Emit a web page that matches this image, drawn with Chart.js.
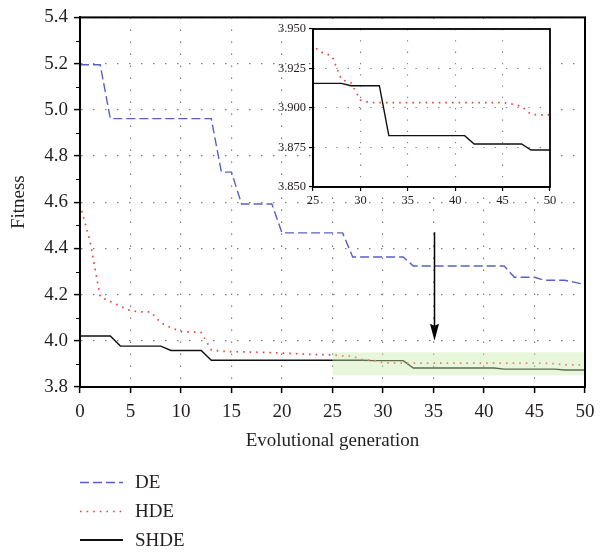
<!DOCTYPE html>
<html>
<head>
<meta charset="utf-8">
<script src="https://cdn.jsdelivr.net/npm/chart.js@4.4.1/dist/chart.umd.min.js"></script>
<style>
  body { margin: 0; background: #fff; }
  #wrap { position: relative; width: 608px; height: 552px; }
  #mainChart { position: absolute; left: 0; top: 0; }
  #insetChart { position: absolute; left: 270px; top: 17px; }
</style>
</head>
<body>
<div id="wrap">
  <canvas id="mainChart" width="608" height="552"></canvas>
  <canvas id="insetChart" width="290" height="190"></canvas>
</div>
<script>
// generations 0..50
const generations = [0, 1, 2, 3, 4, 5, 6, 7, 8, 9, 10, 11, 12, 13, 14, 15, 16, 17, 18, 19, 20,
  21, 22, 23, 24, 25, 26, 27, 28, 29, 30, 31, 32, 33, 34, 35, 36, 37, 38, 39, 40,
  41, 42, 43, 44, 45, 46, 47, 48, 49, 50];

const deValues = [5.195, 5.195, 5.195, 4.962, 4.962, 4.962, 4.962, 4.962, 4.962, 4.962, 4.962,
  4.962, 4.962, 4.962, 4.73, 4.73, 4.592, 4.592, 4.592, 4.592, 4.467,
  4.467, 4.467, 4.467, 4.467, 4.467, 4.467, 4.363, 4.363, 4.363, 4.363,
  4.363, 4.363, 4.324, 4.324, 4.324, 4.324, 4.324, 4.324, 4.324, 4.324,
  4.324, 4.324, 4.275, 4.275, 4.275, 4.262, 4.262, 4.262, 4.253, 4.244];

const hdeValues = [4.59, 4.43, 4.19, 4.17, 4.15, 4.13, 4.125, 4.125, 4.078, 4.057, 4.04,
  4.038, 4.036, 3.96, 3.955, 3.953, 3.952, 3.951, 3.95, 3.949, 3.947,
  3.945, 3.943, 3.941, 3.94, 3.939, 3.935, 3.933, 3.918, 3.916, 3.905,
  3.9034, 3.9034, 3.9034, 3.9034, 3.9034, 3.9034, 3.9034, 3.9034, 3.9034, 3.9034,
  3.9034, 3.9034, 3.9034, 3.9034, 3.9034, 3.9025, 3.901, 3.896, 3.8956, 3.8956];

const shdeValues = [4.021, 4.021, 4.021, 4.021, 3.977, 3.977, 3.977, 3.977, 3.977, 3.958, 3.958,
  3.958, 3.958, 3.9156, 3.9156, 3.9156, 3.9156, 3.9156, 3.9156, 3.9156, 3.9156,
  3.9156, 3.9156, 3.9156, 3.9156, 3.9156, 3.9156, 3.9156, 3.9156, 3.9141, 3.9141,
  3.9141, 3.9141, 3.8825, 3.8825, 3.8825, 3.8825, 3.8825, 3.8825, 3.8825, 3.8825,
  3.8825, 3.8772, 3.8772, 3.8772, 3.8772, 3.8772, 3.8772, 3.8734, 3.8734, 3.8734];

const seriesNames = ['DE', 'HDE', 'SHDE'];
const yMinorTicks = [3.9, 4.1, 4.3, 4.5, 4.7, 4.9, 5.1, 5.3];

// zoomed region and arrow (data units)
const zoomX = [25, 50];
const zoomY = [3.85, 3.95];
const arrowX = 35;
const arrowY = [4.47, 4.0];

const FONT = "'Liberation Serif', 'Times New Roman', serif";
Chart.defaults.font.family = FONT;
Chart.defaults.color = '#231f20';

const COLORS = { DE: '#5860c4', HDE: '#e8453c', SHDE: '#111111' };
const DASHES = { DE: [9, 4], HDE: [1.6, 5], SHDE: [] };

function pts(values) {
  return generations.map((g, i) => ({ x: g, y: values[i] }));
}

function makeDataset(name, values) {
  return {
    label: name,
    data: pts(values),
    borderColor: COLORS[name],
    borderWidth: name === 'HDE' ? 1.7 : 1.4,
    borderDash: DASHES[name],
    pointRadius: 0,
    tension: 0,
    fill: false
  };
}

const gridOpts = {
  color: '#808080',
  lineWidth: 1.2,
  tickColor: '#000',
  tickWidth: 1.5,
  tickLength: 6
};

const mainPlugin = {
  id: 'mainExtras',
  afterDatasetsDraw(chart) {
    const { ctx, scales: { x, y } } = chart;
    // highlighted zoom region
    ctx.save();
    ctx.fillStyle = 'rgba(200, 235, 170, 0.42)';
    const x1 = x.getPixelForValue(zoomX[0]), x2 = x.getPixelForValue(zoomX[1]);
    const y1 = y.getPixelForValue(zoomY[1]), y2 = y.getPixelForValue(zoomY[0]);
    ctx.fillRect(x1, y1, x2 - x1, y2 - y1);
    ctx.restore();
  },
  afterDraw(chart) {
    const { ctx, chartArea: a, scales: { x, y } } = chart;
    ctx.save();
    // frame
    ctx.strokeStyle = '#000';
    ctx.lineWidth = 2;
    ctx.strokeRect(a.left, a.top, a.right - a.left, a.bottom - a.top);
    // minor y ticks
    ctx.lineWidth = 1.2;
    ctx.beginPath();
    yMinorTicks.forEach(v => {
      const py = Math.round(y.getPixelForValue(v)) + 0.5;
      ctx.moveTo(a.left - 4, py);
      ctx.lineTo(a.left, py);
    });
    ctx.stroke();
    // arrow
    const ax = Math.round(x.getPixelForValue(arrowX)) + 0.5;
    const ay1 = y.getPixelForValue(arrowY[0]);
    const ay2 = y.getPixelForValue(arrowY[1]);
    ctx.lineWidth = 1.5;
    ctx.beginPath();
    ctx.moveTo(ax, ay1);
    ctx.lineTo(ax, ay2 - 10);
    ctx.stroke();
    ctx.fillStyle = '#000';
    ctx.beginPath();
    ctx.moveTo(ax - 4.5, ay2 - 17);
    ctx.lineTo(ax, ay2 - 15);
    ctx.lineTo(ax + 4.5, ay2 - 17);
    ctx.lineTo(ax, ay2);
    ctx.closePath();
    ctx.fill();
    // legend
    const rows = [482.5, 511.5, 540];
    chart.data.datasets.forEach((ds, i) => {
      const ly = rows[i];
      ctx.strokeStyle = ds.borderColor;
      ctx.lineWidth = ds.label === 'SHDE' ? 2.2 : 1.6;
      ctx.setLineDash(ds.borderDash);
      ctx.beginPath();
      ctx.moveTo(80, ly);
      ctx.lineTo(123, ly);
      ctx.stroke();
      ctx.setLineDash([]);
      ctx.fillStyle = '#231f20';
      ctx.font = '19px ' + FONT;
      ctx.textBaseline = 'middle';
      ctx.fillText(ds.label, 135, ly + 1);
    });
    ctx.restore();
  }
};

new Chart(document.getElementById('mainChart'), {
  type: 'line',
  data: {
    datasets: [
      makeDataset(seriesNames[0], deValues),
      makeDataset(seriesNames[1], hdeValues),
      makeDataset(seriesNames[2], shdeValues)
    ]
  },
  options: {
    responsive: false,
    animation: false,
    layout: { padding: { top: 12, right: 23, bottom: 100, left: 0 } },
    plugins: { legend: { display: false }, tooltip: { enabled: false } },
    scales: {
      x: {
        type: 'linear',
        min: 0,
        max: 50,
        ticks: { stepSize: 5, font: { size: 19 }, padding: 8, maxRotation: 0 },
        grid: gridOpts,
        border: { color: '#000', width: 2, dash: [1.5, 10.5] },
        title: { display: true, text: 'Evolutional generation', font: { size: 19 }, padding: 0 },
        afterFit: s => { s.height = 65; }
      },
      y: {
        min: 3.8,
        max: 5.4,
        ticks: { stepSize: 0.2, font: { size: 19 }, padding: 6, callback: v => v.toFixed(1) },
        grid: gridOpts,
        border: { color: '#000', width: 2, dash: [1.5, 10.5] },
        title: { display: true, text: 'Fitness', font: { size: 19 }, padding: { top: 8, bottom: 0 } },
        afterFit: s => { s.width = 80; }
      }
    }
  },
  plugins: [mainPlugin]
});

const insetPlugin = {
  id: 'insetExtras',
  beforeDraw(chart) {
    const { ctx, chartArea: a } = chart;
    ctx.save();
    ctx.fillStyle = '#fff';
    ctx.fillRect(a.left, a.top, a.right - a.left, a.bottom - a.top);
    ctx.restore();
  },
  afterDraw(chart) {
    const { ctx, chartArea: a } = chart;
    ctx.save();
    ctx.strokeStyle = '#000';
    ctx.lineWidth = 1.8;
    ctx.strokeRect(a.left, a.top, a.right - a.left, a.bottom - a.top);
    ctx.restore();
  }
};

const insetGrid = {
  color: '#808080',
  lineWidth: 1.1,
  tickColor: '#000',
  tickWidth: 1.2,
  tickLength: 4
};

new Chart(document.getElementById('insetChart'), {
  type: 'line',
  data: {
    datasets: [
      makeDataset(seriesNames[1], hdeValues),
      makeDataset(seriesNames[2], shdeValues)
    ]
  },
  options: {
    responsive: false,
    animation: false,
    layout: { padding: { top: 12, right: 10, bottom: 0, left: 0 } },
    plugins: { legend: { display: false }, tooltip: { enabled: false } },
    scales: {
      x: {
        type: 'linear',
        min: zoomX[0],
        max: zoomX[1],
        ticks: { stepSize: 5, font: { size: 12.5 }, padding: 2, maxRotation: 0 },
        grid: insetGrid,
        border: { color: '#000', width: 1.8, dash: [1.3, 10] },
        afterFit: s => { s.height = 20; }
      },
      y: {
        min: zoomY[0],
        max: zoomY[1],
        ticks: { stepSize: 0.025, font: { size: 12.5 }, padding: 3, callback: v => v.toFixed(3) },
        grid: insetGrid,
        border: { color: '#000', width: 1.8, dash: [1.3, 10] },
        afterFit: s => { s.width = 43; }
      }
    }
  },
  plugins: [insetPlugin]
});
</script>
</body>
</html>
